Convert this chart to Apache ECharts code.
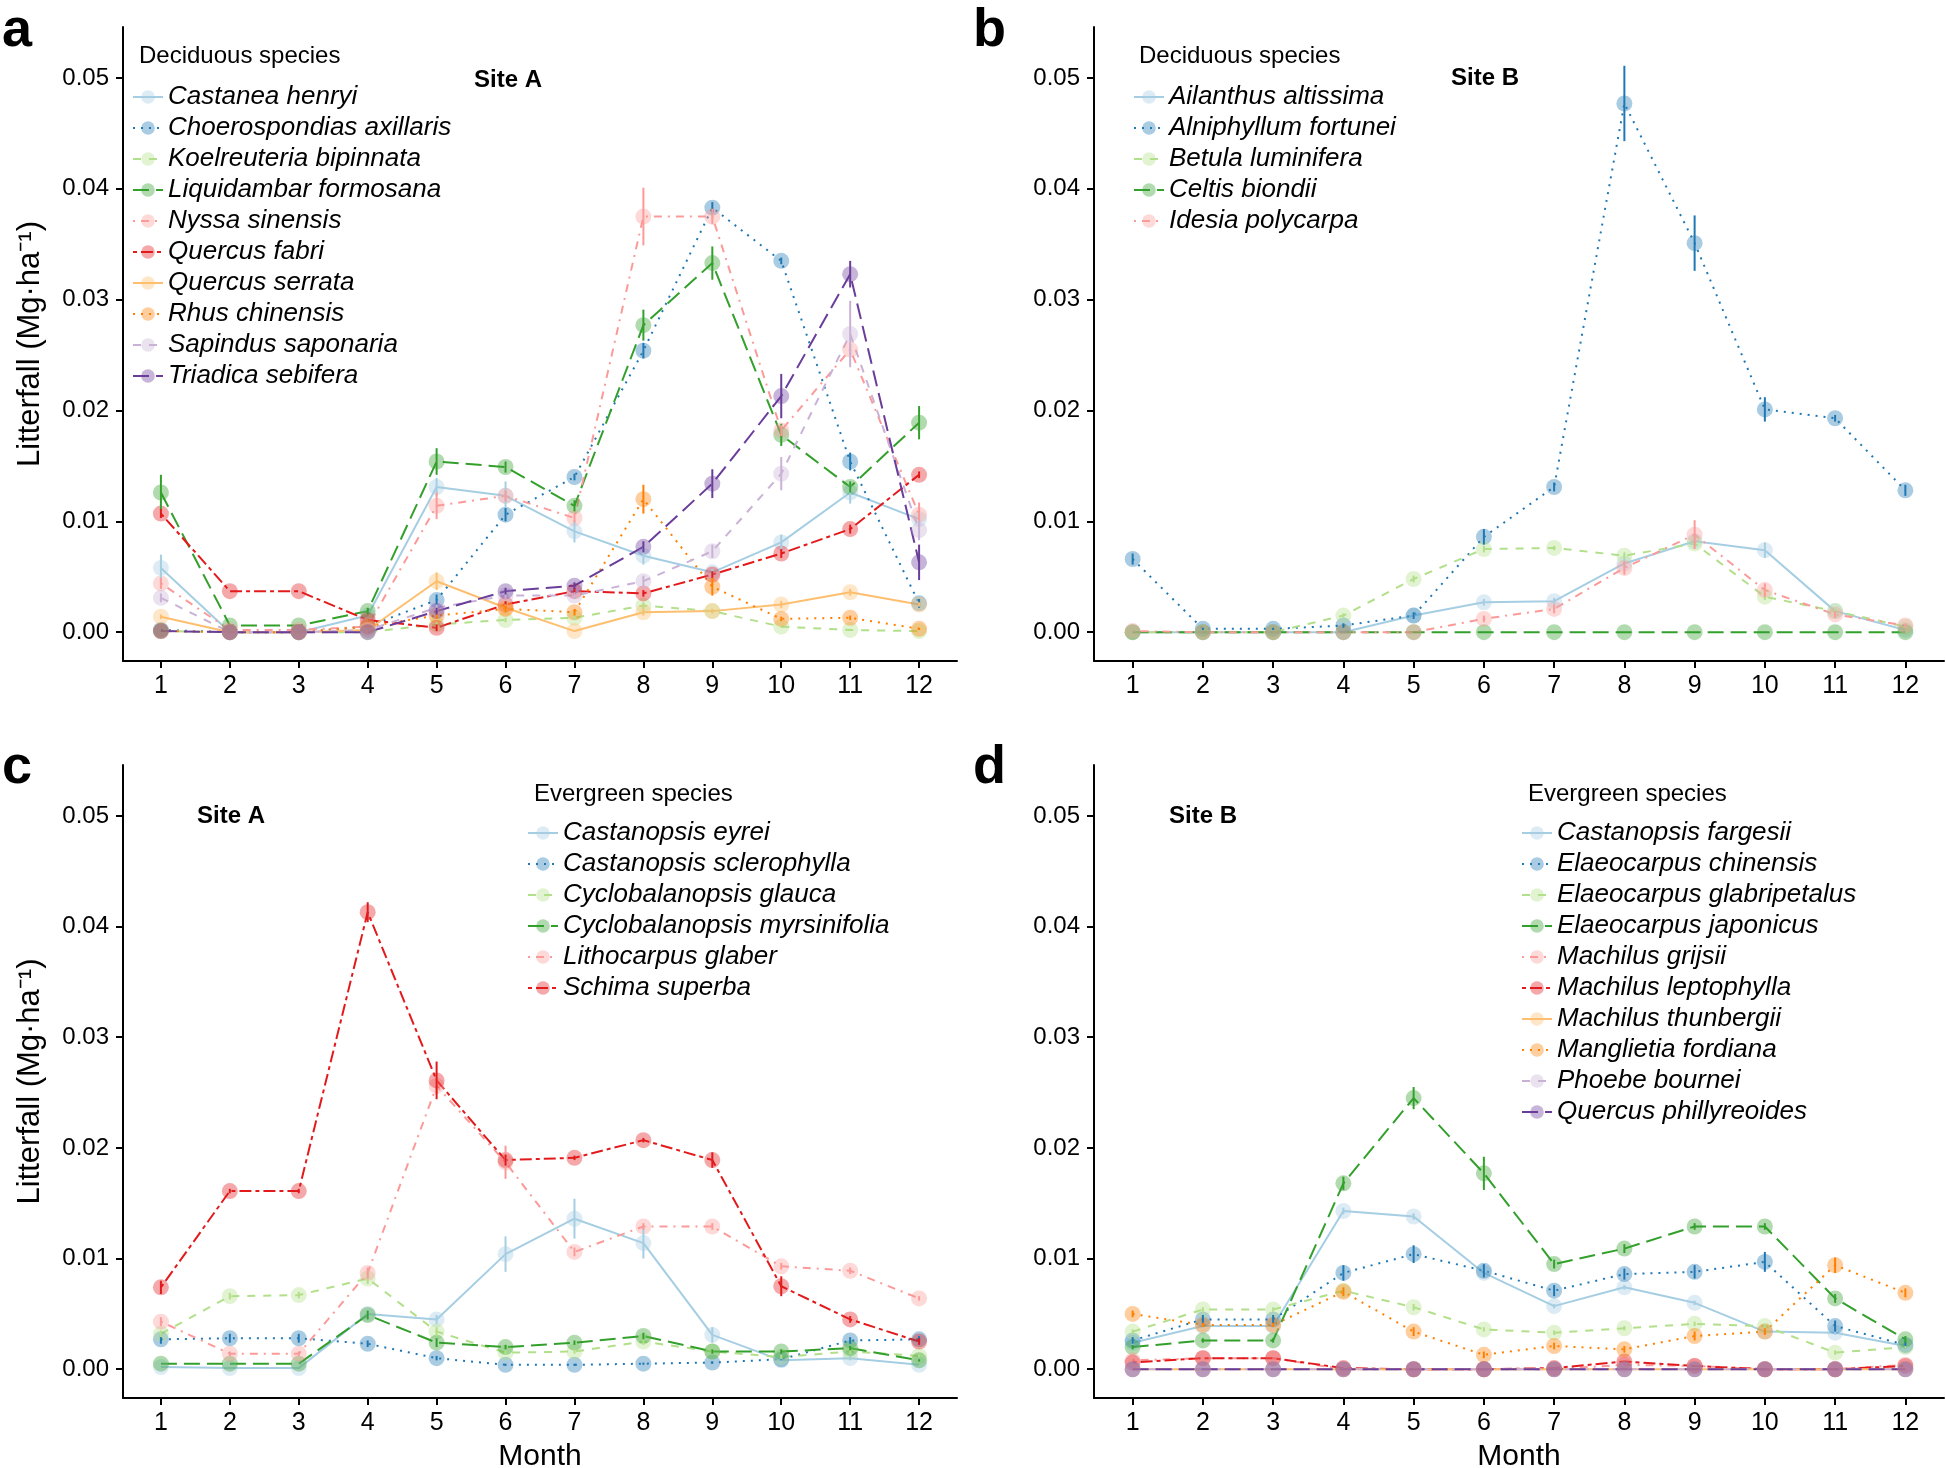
<!DOCTYPE html>
<html>
<head>
<meta charset="utf-8">
<script src="https://cdn.jsdelivr.net/npm/echarts@6/dist/echarts.min.js"></script>
<style>
html,body{margin:0;padding:0;background:#fff;}
#chart{width:1946px;height:1468px;}
</style>
</head>
<body>
<div id="chart"></div>
<script>
// ---------- data ----------
const months = [1,2,3,4,5,6,7,8,9,10,11,12];
const yTicks = [0, 0.01, 0.02, 0.03, 0.04, 0.05];

// Panel a: Site A, deciduous
const aNames = ['Castanea henryi','Choerospondias axillaris','Koelreuteria bipinnata','Liquidambar formosana','Nyssa sinensis','Quercus fabri','Quercus serrata','Rhus chinensis','Sapindus saponaria','Triadica sebifera'];
const castaneaHenryi      = [0.0058,0,0,0.0015,0.0131,0.0123,0.0091,0.0069,0.0054,0.0081,0.0126,0.0102];
const castaneaHenryiErr   = [0.0012,0,0,0,0.0008,0.0013,0.0010,0.0008,0.0003,0.0007,0.0010,0.0004];
const choerospondias      = [0.0002,0,0,0.0005,0.0029,0.0106,0.0140,0.0254,0.0383,0.0335,0.0154,0.0026];
const choerospondiasErr   = [0,0,0,0,0.0005,0.0006,0.0003,0.0007,0.0005,0.0003,0.0008,0.0004];
const koelreuteria        = [0.0001,0,0,0,0.0007,0.0011,0.0013,0.0024,0.0019,0.0005,0.0002,0.0001];
const koelreuteriaErr     = [0,0,0,0,0.0002,0.0002,0.0002,0.0003,0.0002,0.0001,0.0001,0];
const liquidambar         = [0.0126,0.0006,0.0006,0.0019,0.0154,0.0149,0.0114,0.0277,0.0333,0.0178,0.0131,0.0189];
const liquidambarErr      = [0.0016,0,0,0.0003,0.0012,0.0005,0.0005,0.0014,0.0015,0.0010,0.0005,0.0015];
const nyssa               = [0.0044,0.0002,0.0002,0.0005,0.0114,0.0123,0.0103,0.0375,0.0375,0.0182,0.0255,0.0106];
const nyssaErr            = [0.0005,0,0,0,0.0012,0.0005,0.0004,0.0026,0.0007,0.0005,0.0005,0.0011];
const quercusFabri        = [0.0107,0.0037,0.0037,0.0011,0.0004,0.0025,0.0037,0.0035,0.0052,0.0071,0.0093,0.0142];
const quercusFabriErr     = [0.0004,0,0,0,0.0003,0.0003,0.0003,0.0003,0.0003,0.0004,0.0004,0.0003];
const quercusSerrata      = [0.0014,0,0,0.0002,0.0046,0.0022,0.0001,0.0018,0.0019,0.0025,0.0036,0.0025];
const quercusSerrataErr   = [0.0002,0,0,0,0.0008,0.0003,0,0.0003,0.0002,0.0003,0.0003,0.0002];
const rhus                = [0.0001,0,0,0.0005,0.0015,0.0021,0.0018,0.0120,0.0041,0.0012,0.0013,0.0003];
const rhusErr             = [0,0,0,0,0.0003,0.0003,0.0003,0.0013,0.0008,0.0002,0.0002,0.0001];
const sapindus            = [0.0031,0,0,0.0002,0.0022,0.0033,0.0033,0.0046,0.0073,0.0143,0.0269,0.0092];
const sapindusErr         = [0.0004,0,0,0,0.0003,0.0003,0.0003,0.0005,0.0006,0.0015,0.0030,0.0009];
const triadica            = [0.0001,0,0,0,0.0019,0.0037,0.0042,0.0077,0.0134,0.0213,0.0323,0.0063];
const triadicaErr         = [0,0,0,0,0.0003,0.0003,0.0003,0.0005,0.0013,0.0020,0.0012,0.0016];

// Panel b: Site B, deciduous
const bNames = ['Ailanthus altissima','Alniphyllum fortunei','Betula luminifera','Celtis biondii','Idesia polycarpa'];
const ailanthus      = [0,0,0,0,0.0015,0.0027,0.0028,0.0062,0.0082,0.0074,0.0019,0.0002];
const ailanthusErr   = [0,0,0,0,0.0002,0.0003,0.0003,0.0004,0.0004,0.0007,0.0002,0];
const alniphyllum    = [0.0066,0.0003,0.0003,0.0006,0.0015,0.0086,0.0131,0.0477,0.0351,0.0201,0.0193,0.0128];
const alniphyllumErr = [0.0005,0.0001,0.0001,0.0002,0.0003,0.0007,0.0004,0.0034,0.0025,0.0011,0.0003,0.0005];
const betula         = [0,0,0,0.0015,0.0048,0.0075,0.0076,0.0069,0.0080,0.0032,0.0019,0.0005];
const betulaErr      = [0,0,0,0.0002,0.0003,0.0003,0.0002,0.0003,0.0003,0.0003,0.0002,0.0001];
const celtis         = [0,0,0,0,0,0,0,0,0,0,0,0];
const celtisErr      = [0,0,0,0,0,0,0,0,0,0,0,0];
const idesia         = [0.0001,0,0,0,0,0.0012,0.0021,0.0058,0.0088,0.0038,0.0016,0.0006];
const idesiaErr      = [0,0,0,0,0,0.0003,0.0004,0.0006,0.0013,0.0006,0.0003,0.0002];

// Panel c: Site A, evergreen
const cNames = ['Castanopsis eyrei','Castanopsis sclerophylla','Cyclobalanopsis glauca','Cyclobalanopsis myrsinifolia','Lithocarpus glaber','Schima superba'];
const castanopsisEyrei     = [0.0002,0.0001,0.0001,0.0050,0.0045,0.0104,0.0136,0.0114,0.0031,0.0008,0.0010,0.0004];
const castanopsisEyreiErr  = [0,0,0,0.0003,0.0004,0.0016,0.0018,0.0014,0.0007,0.0002,0.0002,0];
const sclerophylla         = [0.0027,0.0028,0.0028,0.0023,0.0010,0.0004,0.0004,0.0005,0.0006,0.0009,0.0026,0.0027];
const sclerophyllaErr      = [0.0004,0.0004,0.0004,0.0003,0.0002,0.0001,0.0001,0.0001,0.0001,0.0001,0.0003,0.0003];
const glauca               = [0.0032,0.0066,0.0067,0.0082,0.0034,0.0015,0.0016,0.0025,0.0016,0.0011,0.0016,0.0012];
const glaucaErr            = [0.0003,0.0003,0.0003,0.0005,0.0004,0.0002,0.0002,0.0003,0.0002,0.0002,0.0002,0.0001];
const myrsinifolia         = [0.0005,0.0005,0.0005,0.0049,0.0024,0.0020,0.0024,0.0030,0.0016,0.0016,0.0019,0.0008];
const myrsinifoliaErr      = [0,0,0,0.0004,0.0004,0.0002,0.0002,0.0003,0.0002,0.0002,0.0002,0.0001];
const lithocarpus          = [0.0043,0.0014,0.0014,0.0087,0.0256,0.0187,0.0106,0.0129,0.0129,0.0093,0.0089,0.0064];
const lithocarpusErr       = [0.0004,0.0002,0.0002,0.0005,0.0007,0.0015,0.0004,0.0003,0.0003,0.0003,0.0003,0.0002];
const schima               = [0.0074,0.0161,0.0161,0.0413,0.0261,0.0189,0.0191,0.0207,0.0189,0.0075,0.0045,0.0025];
const schimaErr            = [0.0006,0.0002,0.0002,0.0009,0.0017,0.0005,0.0002,0.0002,0.0007,0.0009,0.0003,0.0003];

// Panel d: Site B, evergreen
const dNames = ['Castanopsis fargesii','Elaeocarpus chinensis','Elaeocarpus glabripetalus','Elaeocarpus japonicus','Machilus grijsii','Machilus leptophylla','Machilus thunbergii','Manglietia fordiana','Phoebe bournei','Quercus phillyreoides'];
const fargesii        = [0.0024,0.0039,0.0039,0.0143,0.0138,0.0087,0.0057,0.0074,0.0060,0.0034,0.0033,0.0021];
const fargesiiErr     = [0.0002,0.0002,0.0002,0.0003,0.0003,0.0003,0.0002,0.0002,0.0002,0.0002,0.0002,0.0001];
const chinensis       = [0.0026,0.0045,0.0045,0.0087,0.0104,0.0089,0.0071,0.0086,0.0088,0.0097,0.0039,0.0022];
const chinensisErr    = [0.0003,0.0004,0.0004,0.0007,0.0008,0.0006,0.0005,0.0005,0.0006,0.0009,0.0005,0.0003];
const glabripetalus   = [0.0034,0.0054,0.0054,0.0071,0.0056,0.0036,0.0033,0.0037,0.0041,0.0039,0.0015,0.0020];
const glabripetalusErr= [0.0002,0.0002,0.0002,0.0003,0.0003,0.0002,0.0002,0.0002,0.0002,0.0002,0.0002,0.0001];
const japonicus       = [0.0020,0.0026,0.0026,0.0168,0.0245,0.0177,0.0095,0.0109,0.0129,0.0129,0.0064,0.0027];
const japonicusErr    = [0.0002,0.0002,0.0002,0.0006,0.0010,0.0015,0.0004,0.0004,0.0003,0.0003,0.0004,0.0003];
const grijsii         = [0.0008,0.0010,0.0010,0,0,0,0,0.0004,0.0003,0,0,0.0004];
const grijsiiErr      = [0,0,0,0,0,0,0,0,0,0,0,0];
const leptophylla     = [0.0006,0.0010,0.0010,0.0001,0,0,0.0001,0.0007,0.0003,0,0,0.0003];
const leptophyllaErr  = [0,0,0,0,0,0,0,0,0,0,0,0];
const thunbergii      = [0,0,0,0,0,0,0,0,0,0,0,0];
const thunbergiiErr   = [0,0,0,0,0,0,0,0,0,0,0,0];
const manglietia      = [0.0050,0.0040,0.0040,0.0070,0.0034,0.0013,0.0021,0.0018,0.0030,0.0034,0.0094,0.0069];
const manglietiaErr   = [0.0003,0.0002,0.0002,0.0004,0.0004,0.0003,0.0003,0.0003,0.0004,0.0003,0.0007,0.0004];
const phoebe          = [0,0,0,0,0,0,0,0,0,0,0,0];
const phoebeErr       = [0,0,0,0,0,0,0,0,0,0,0,0];
const phillyreoides   = [0,0,0,0,0,0,0,0,0,0,0,0];
const phillyreoidesErr= [0,0,0,0,0,0,0,0,0,0,0,0];

// ---------- styles ----------
const palette = ['#a6cee3','#1f78b4','#b2df8a','#33a02c','#fb9a99','#e31a1c','#fdbf6f','#ff7f00','#cab2d6','#6a3d9a'];
const dashes = ['solid',[2,6],[8,8],[16,7],[2,6,8,6],[4,4,12,4],'solid',[2,6],[8,8],[16,7]];
const FONT = "'Liberation Sans', Arial, Helvetica, sans-serif";

const panels = [
  {names:aNames, vals:[castaneaHenryi,choerospondias,koelreuteria,liquidambar,nyssa,quercusFabri,quercusSerrata,rhus,sapindus,triadica],
   errs:[castaneaHenryiErr,choerospondiasErr,koelreuteriaErr,liquidambarErr,nyssaErr,quercusFabriErr,quercusSerrataErr,rhusErr,sapindusErr,triadicaErr]},
  {names:bNames, vals:[ailanthus,alniphyllum,betula,celtis,idesia],
   errs:[ailanthusErr,alniphyllumErr,betulaErr,celtisErr,idesiaErr]},
  {names:cNames, vals:[castanopsisEyrei,sclerophylla,glauca,myrsinifolia,lithocarpus,schima],
   errs:[castanopsisEyreiErr,sclerophyllaErr,glaucaErr,myrsinifoliaErr,lithocarpusErr,schimaErr]},
  {names:dNames, vals:[fargesii,chinensis,glabripetalus,japonicus,grijsii,leptophylla,thunbergii,manglietia,phoebe,phillyreoides],
   errs:[fargesiiErr,chinensisErr,glabripetalusErr,japonicusErr,grijsiiErr,leptophyllaErr,thunbergiiErr,manglietiaErr,phoebeErr,phillyreoidesErr]}
];

const grids = [
  {left:123, top:27, width:834, height:634},
  {left:1094, top:27, width:850, height:634},
  {left:123, top:765, width:834, height:633},
  {left:1094, top:765, width:850, height:633}
];

const xAxes = grids.map((g,i)=>({
  type:'value', gridIndex:i, min:0.45, max:12.55,
  name: (i>=2 ? 'Month' : ''), nameLocation:'middle', nameGap:44,
  nameTextStyle:{fontSize:30, color:'#000', fontFamily:FONT},
  axisLine:{onZero:false, lineStyle:{color:'#000', width:2}},
  axisTick:{customValues:months, length:7, lineStyle:{color:'#000', width:2}},
  axisLabel:{customValues:months, fontSize:25, color:'#000', margin:13, fontFamily:FONT},
  splitLine:{show:false}
}));
const yAxes = grids.map((g,i)=>({
  type:'value', gridIndex:i, min:-0.0026, max:0.0546,
  name: (i%2===0 ? 'Litterfall (Mg·ha⁻¹)' : ''), nameLocation:'middle', nameGap:77, nameRotate:90,
  nameTextStyle:{fontSize:31, color:'#000', fontFamily:FONT},
  axisLine:{onZero:false, lineStyle:{color:'#000', width:2}},
  axisTick:{customValues:yTicks, length:7, lineStyle:{color:'#000', width:2}},
  axisLabel:{customValues:yTicks, fontSize:24, color:'#000', margin:14, fontFamily:FONT,
    formatter:(v)=>v.toFixed(2)},
  splitLine:{show:false}
}));

const series = [];
panels.forEach((p,pi)=>{
  p.names.forEach((nm,k)=>{
    const col = palette[k];
    series.push({
      type:'line', name:nm, xAxisIndex:pi, yAxisIndex:pi,
      data: months.map((m,j)=>[m, p.vals[k][j]]),
      symbol:'circle', symbolSize:16, showSymbol:true,
      itemStyle:{color:col, opacity:0.38},
      lineStyle:{color:col, width:2, type:dashes[k]},
      emphasis:{disabled:true}, z:2
    });
    series.push({
      type:'custom', name:'_err_'+nm, xAxisIndex:pi, yAxisIndex:pi,
      data: months.map((m,j)=>[m, p.vals[k][j], p.errs[k][j]]),
      renderItem:(params, api)=>{
        const x = api.value(0), y = api.value(1), e = api.value(2);
        if (!e) return null;
        const p1 = api.coord([x, y-e]);
        const p2 = api.coord([x, y+e]);
        return {type:'line', shape:{x1:p1[0], y1:p1[1], x2:p2[0], y2:p2[1]},
                style:{stroke:col, lineWidth:2}};
      },
      silent:true, z:3
    });
  });
});

const legendBase = {
  orient:'vertical', padding:0, itemWidth:30, itemHeight:17, itemGap:5,
  textStyle:{fontStyle:'italic', fontSize:26, lineHeight:26, color:'#000', fontFamily:FONT},
  selectedMode:false
};
const legends = [
  Object.assign({}, legendBase, {data:aNames, left:132, top:84}),
  Object.assign({}, legendBase, {data:bNames, left:1133, top:84}),
  Object.assign({}, legendBase, {data:cNames, left:527, top:820}),
  Object.assign({}, legendBase, {data:dNames, left:1521, top:820})
];

const graphics = [
  {type:'text', x:2, y:31, style:{text:'a', fill:'#000', font:'bold 54px '+FONT, verticalAlign:'middle'}},
  {type:'text', x:973, y:31, style:{text:'b', fill:'#000', font:'bold 54px '+FONT, verticalAlign:'middle'}},
  {type:'text', x:2, y:768, style:{text:'c', fill:'#000', font:'bold 54px '+FONT, verticalAlign:'middle'}},
  {type:'text', x:973, y:768, style:{text:'d', fill:'#000', font:'bold 54px '+FONT, verticalAlign:'middle'}},
  {type:'text', x:474, y:80, style:{text:'Site A', fill:'#000', font:'bold 24px '+FONT, verticalAlign:'middle'}},
  {type:'text', x:1451, y:78, style:{text:'Site B', fill:'#000', font:'bold 24px '+FONT, verticalAlign:'middle'}},
  {type:'text', x:197, y:816, style:{text:'Site A', fill:'#000', font:'bold 24px '+FONT, verticalAlign:'middle'}},
  {type:'text', x:1169, y:816, style:{text:'Site B', fill:'#000', font:'bold 24px '+FONT, verticalAlign:'middle'}},
  {type:'text', x:139, y:56, style:{text:'Deciduous species', fill:'#000', font:'24px '+FONT, verticalAlign:'middle'}},
  {type:'text', x:1139, y:56, style:{text:'Deciduous species', fill:'#000', font:'24px '+FONT, verticalAlign:'middle'}},
  {type:'text', x:534, y:794, style:{text:'Evergreen species', fill:'#000', font:'24px '+FONT, verticalAlign:'middle'}},
  {type:'text', x:1528, y:794, style:{text:'Evergreen species', fill:'#000', font:'24px '+FONT, verticalAlign:'middle'}}
];

const chart = echarts.init(document.getElementById('chart'), null, {renderer:'canvas'});
chart.setOption({
  backgroundColor:'#fff',
  animation:false,
  textStyle:{fontFamily:FONT},
  grid: grids.map(g=>Object.assign({containLabel:false, outerBoundsMode:'none'}, g)),
  xAxis: xAxes,
  yAxis: yAxes,
  legend: legends,
  graphic: graphics,
  series: series
});
</script>
</body>
</html>
